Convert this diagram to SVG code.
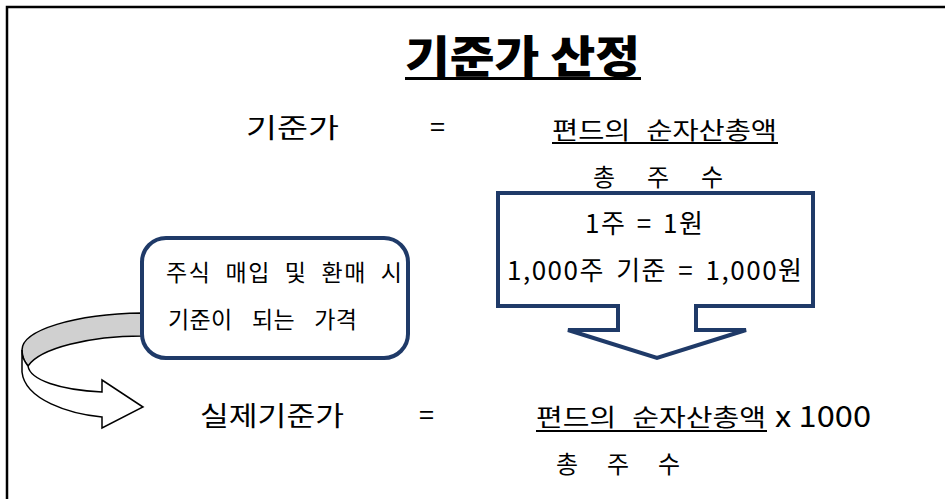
<svg xmlns="http://www.w3.org/2000/svg" width="945" height="499" viewBox="0 0 945 499">
<style>
text{font-family:"Noto Sans CJK KR","Noto Sans",sans-serif;fill:#000}
.t{font-size:27px}
.s{font-size:24px}
.m{font-size:26px}
.b{font-size:23px}
.nav{fill:#fff;stroke:#1F3A68;stroke-width:4}
.ul{stroke:#000;stroke-width:2}
</style>
<rect width="945" height="499" fill="#fff"/>
<g id="frame"><path d="M7,499 V7 H945" fill="none" stroke="#000" stroke-width="2.5"/></g>
<g id="title">
<text x="405" y="73" font-size="44" font-weight="900" textLength="235" lengthAdjust="spacingAndGlyphs">기준가 산정</text>
<line x1="405" y1="78.5" x2="641" y2="78.5" stroke="#000" stroke-width="3"/>
</g>
<g id="formula1">
<text class="t" x="246" y="138" textLength="93" lengthAdjust="spacingAndGlyphs">기준가</text>
<text class="t" x="430" y="137">=</text>
<text class="s" x="552" y="139" word-spacing="8" textLength="225" lengthAdjust="spacingAndGlyphs">편드의 순자산총액</text>
<line class="ul" x1="552" y1="143" x2="778" y2="143"/>
<text class="s" x="593" y="186" textLength="130" lengthAdjust="spacing">총 주 수</text>
</g>
<g id="arrowbox">
<path class="nav" d="M498,193 H813 V306 H696 V330 H746 L657,358 L568,330 H618 V306 H498 Z"/>
<text class="m" x="585" y="233" word-spacing="3" textLength="118" lengthAdjust="spacing">1주 = 1원</text>
<text class="m" x="507" y="280" word-spacing="4" textLength="295" lengthAdjust="spacing">1,000주 기준 = 1,000원</text>
</g>
<g id="curvedarrow">
<path d="M142,313 C75,314 22,330 22,350 C22,358 25,362 28,366 C40,348 90,336 142,336 Z" fill="#D0D0D0" stroke="#000" stroke-width="1.5"/>
<path d="M22,350 L22,372 C25,400 70,414 102,417 L102,428 L143,407 L102,380 L102,392 C60,390 30,380 28,366 C25,362 22,358 22,350 Z" fill="#fff" stroke="#000" stroke-width="1.5"/>
</g>
<g id="note">
<rect class="nav" x="142" y="238" width="266" height="120" rx="24" stroke-width="3.5"/>
<text class="b" x="166" y="281" word-spacing="7" textLength="236" lengthAdjust="spacing">주식 매입 및 환매 시</text>
<text class="b" x="168" y="328" word-spacing="14" textLength="189" lengthAdjust="spacing">기준이 되는 가격</text>
</g>
<g id="formula2">
<text class="t" x="200" y="426" textLength="144" lengthAdjust="spacingAndGlyphs">실제기준가</text>
<text class="t" x="419" y="425">=</text>
<text class="s" x="536" y="426" word-spacing="8" textLength="230" lengthAdjust="spacingAndGlyphs">편드의 순자산총액</text>
<line class="ul" x1="536" y1="431" x2="767" y2="431"/>
<text x="775" y="427" font-size="29" textLength="96" lengthAdjust="spacingAndGlyphs">x 1000</text>
<text class="s" x="556" y="473" textLength="124" lengthAdjust="spacing">총 주 수</text>
</g>
</svg>
